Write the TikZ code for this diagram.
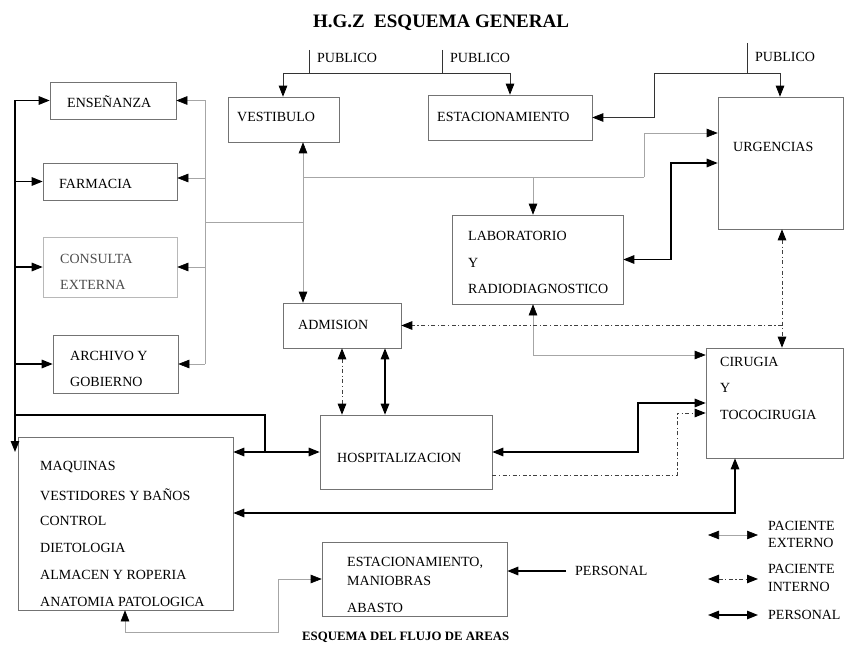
\documentclass[tikz,border=0pt]{standalone}
\usepackage{fontspec}
\setmainfont{Liberation Serif}
\usetikzlibrary{arrows.meta}
\begin{document}
\begin{tikzpicture}[x=1pt,y=-1pt,
  >={Triangle[length=11pt,width=8.5pt,color=black]},
  box/.style={draw=black!55, line width=0.6pt, inner sep=0pt},
  faintbox/.style={draw=black!28, line width=0.6pt, inner sep=0pt},
  lbl/.style={anchor=west, inner sep=0pt, font=\fontsize{14}{16}\selectfont},
  personal/.style={line width=1.4pt, draw=black},
  externo/.style={line width=0.6pt, draw=black!35},
  interno/.style={line width=1pt, draw=black!75, dash pattern=on 4pt off 2.5pt on 1.2pt off 2.5pt},
  pub/.style={line width=0.8pt, draw=black!80}]

\useasboundingbox (0,0) rectangle (845,647);

% title
\node[font=\fontsize{19}{21}\bfseries\selectfont, inner sep=0pt] (title) at (441,23) {H.G.Z\ \ ESQUEMA GENERAL};

% boxes
\node[box, minimum width=126pt, minimum height=37pt] (ens) at (113,100.5) {};
\node[box, minimum width=134pt, minimum height=37pt] (far) at (110,181.5) {};
\node[faintbox, minimum width=134pt, minimum height=60pt] (con) at (110,267) {};
\node[box, minimum width=125pt, minimum height=58pt] (arc) at (115.5,364) {};
\node[box, minimum width=111pt, minimum height=45pt] (ves) at (283.5,119.5) {};
\node[box, minimum width=164pt, minimum height=45pt] (est) at (510,117.5) {};
\node[box, minimum width=125pt, minimum height=132pt] (urg) at (780.5,163) {};
\node[box, minimum width=171pt, minimum height=89pt] (lab) at (537.5,259.5) {};
\node[box, minimum width=118pt, minimum height=45pt] (adm) at (342,325.5) {};
\node[box, minimum width=172pt, minimum height=74pt] (hos) at (406,452) {};
\node[box, minimum width=137pt, minimum height=110pt] (cir) at (774.5,403) {};
\node[box, minimum width=215pt, minimum height=173pt] (maq) at (125.5,523.5) {};
\node[box, minimum width=185pt, minimum height=74pt] (eam) at (414.5,579) {};

% box texts
\node[lbl] (tEns) at (67,102) {ENSEÑANZA};
\node[lbl] (tFar) at (59,184) {FARMACIA};
\node[lbl, text=black!70] (tCon1) at (60,259) {CONSULTA};
\node[lbl, text=black!70] (tCon2) at (60,285) {EXTERNA};
\node[lbl] (tArc1) at (70,356) {ARCHIVO Y};
\node[lbl] (tArc2) at (70,382) {GOBIERNO};
\node[lbl] (tVes) at (237,117) {VESTIBULO};
\node[lbl] (tEst) at (437,117) {ESTACIONAMIENTO};
\node[lbl] (tUrg) at (733,147) {URGENCIAS};
\node[lbl] (tLab1) at (468,236) {LABORATORIO};
\node[lbl] (tLab2) at (468,263) {Y};
\node[lbl] (tLab3) at (468,289) {RADIODIAGNOSTICO};
\node[lbl] (tAdm) at (298,325) {ADMISION};
\node[lbl] (tHos) at (337,458) {HOSPITALIZACION};
\node[lbl] (tCir1) at (720,362) {CIRUGIA};
\node[lbl] (tCir2) at (720,388) {Y};
\node[lbl] (tCir3) at (720,415) {TOCOCIRUGIA};
\node[lbl] (tMaq1) at (40,467) {MAQUINAS};
\node[lbl] (tMaq2) at (40,495) {VESTIDORES Y BAÑOS};
\node[lbl] (tMaq3) at (40,521) {CONTROL};
\node[lbl] (tMaq4) at (40,548) {DIETOLOGIA};
\node[lbl] (tMaq5) at (40,575) {ALMACEN Y ROPERIA};
\node[lbl] (tMaq6) at (40,602) {ANATOMIA PATOLOGICA};
\node[lbl] (tEam1) at (347,563) {ESTACIONAMIENTO,};
\node[lbl] (tEam2) at (347,581) {MANIOBRAS};
\node[lbl] (tEam3) at (347,608) {ABASTO};
\node[lbl] (pers) at (575,571) {PERSONAL};

% public entrances
\node[lbl] (pub1) at (317,58) {PUBLICO};
\node[lbl] (pub2) at (450,58) {PUBLICO};
\node[lbl] (pub3) at (755,57) {PUBLICO};
\coordinate (h1) at (283,73);
\coordinate (h2) at (510,73);
\draw[pub] (309,50) -- (309,73);
\draw[pub] (442,50) -- (442,73);
\draw[pub] (h1) -- (h2);
\draw[pub,->] (h1) -- (ves.north -| h1);
\draw[pub,->] (h2) -- (est.north -| h2);
\coordinate (r1) at (747,73);
\coordinate (r2) at (654,73);
\coordinate (r3) at (780,73);
\coordinate (r4) at (654,117.5);
\draw[pub] (747,43) -- (r1);
\draw[pub,->] (r2) -- (r3) -- (urg.north -| r3);
\draw[pub,->] (r2) -- (r4) -- (est.east);

% personnel flows
\coordinate (busTop) at (15,100.5);
\coordinate (busEnd) at (15,452);
\draw[personal,->] (busTop) -- (busEnd);
\draw[personal,->] (busTop) -- (ens.west);
\draw[personal,->] (busTop |- far.west) -- (far.west);
\draw[personal,->] (busTop |- con.west) -- (con.west);
\draw[personal,->] (busTop |- arc.west) -- (arc.west);
\coordinate (j1) at (15,415);
\coordinate (j2) at (265,415);
\coordinate (j3) at (265,452);
\draw[personal] (j1) -- (j2) -- (j3);
\draw[personal,<->] (maq.east |- j3) -- (hos.west);
\coordinate (k1) at (735,513);
\draw[personal,<->] (maq.east |- k1) -- (k1) -- (k1 |- cir.south);
\coordinate (m1) at (638,452);
\coordinate (m2) at (638,403);
\draw[personal,<->] (hos.east) -- (m1) -- (m2) -- (cir.west);
\coordinate (p1) at (385,330);
\draw[personal,<->] (adm.south -| p1) -- (hos.north -| p1);
\coordinate (n1) at (671,163);
\coordinate (n2) at (671,259.5);
\draw[personal,<->] (urg.west) -- (n1) -- (n2) -- (lab.east);
\draw[personal,->] ([xshift=-9pt]pers.west) -- (eam.east |- pers.west);

% outpatient flows
\coordinate (e1) at (205,100.5);
\coordinate (e2) at (205,364);
\coordinate (e3) at (205,178);
\draw[externo] (e1) -- (e2);
\draw[externo,->] (e1) -- (ens.east);
\draw[externo,->] (e3) -- (far.east |- e3);
\draw[externo,->] (e1 |- con.east) -- (con.east);
\draw[externo,->] (e2) -- (arc.east);
\coordinate (v1) at (303,222);
\coordinate (v2) at (303,177);
\draw[externo] (e1 |- v1) -- (v1);
\draw[externo,<->] (ves.south -| v1) -- (adm.north -| v1);
\coordinate (u1) at (644,177);
\coordinate (u2) at (644,133);
\coordinate (u3) at (533,177);
\draw[externo] (v2) -- (u1);
\draw[externo,->] (u1) -- (u2) -- (urg.west |- u2);
\draw[externo,->] (u3) -- (lab.north -| u3);
\coordinate (q1) at (533,355);
\draw[externo,<->] (lab.south -| q1) -- (q1) -- (cir.west |- q1);
\coordinate (s1) at (125,632);
\coordinate (s2) at (278,632);
\coordinate (s3) at (278,579);
\draw[externo,<->] (maq.south -| s1) -- (s1) -- (s2) -- (s3) -- (eam.west);

% inpatient flows
\coordinate (d1) at (342,330);
\draw[interno,<->] (adm.south -| d1) -- (hos.north -| d1);
\coordinate (c1) at (782,325.5);
\draw[interno,<->] (urg.south -| c1) -- (cir.north -| c1);
\draw[interno,->] (c1) -- (adm.east);
\coordinate (g1) at (677,475);
\coordinate (g2) at (677,413);
\draw[interno,->] (hos.east |- g1) -- (g1) -- (g2) -- (cir.west |- g2);

% legend
\node[lbl] (lgE1) at (768,526) {PACIENTE};
\node[lbl] (lgE2) at (768,543) {EXTERNO};
\node[lbl] (lgI1) at (768,569) {PACIENTE};
\node[lbl] (lgI2) at (768,587) {INTERNO};
\node[lbl] (lgP) at (768,615) {PERSONAL};
\coordinate (la1) at (708,535);
\coordinate (lb1) at (758,535);
\coordinate (la2) at (708,579);
\coordinate (lb2) at (758,579);
\coordinate (la3) at (708,615);
\coordinate (lb3) at (758,615);
\draw[externo,<->] (la1) -- (lb1);
\draw[interno,<->] (la2) -- (lb2);
\draw[personal,<->] (la3) -- (lb3);

% caption
\node[anchor=west, inner sep=0pt, font=\fontsize{12.8}{14}\bfseries\selectfont] (cap) at (302,637) {ESQUEMA DEL FLUJO DE AREAS};
\end{tikzpicture}
\end{document}
